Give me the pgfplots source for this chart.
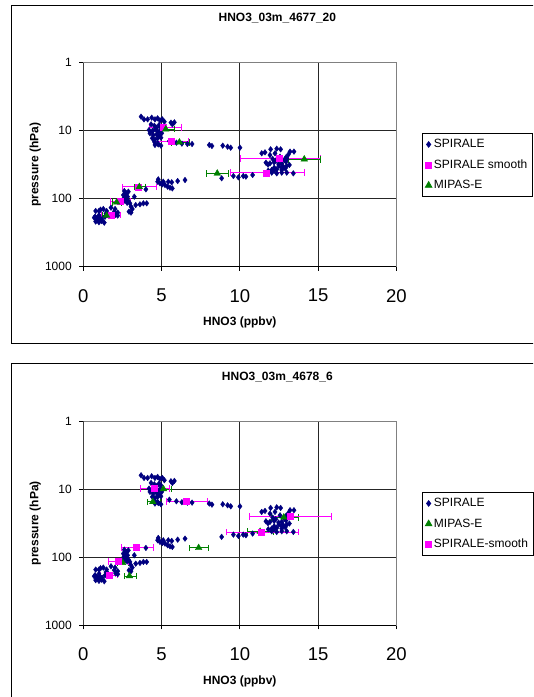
\documentclass[border=0pt]{standalone}
\usepackage{fontspec}
\setmainfont{Liberation Sans}
\usepackage{pgfplots}
\pgfplotsset{compat=1.18}
\usepackage{pgfplotstable}
\definecolor{spnavy}{RGB}{0,0,128}
\definecolor{spmag}{RGB}{255,0,255}
\definecolor{spgreen}{RGB}{0,128,0}

\pgfplotstableread{
x y
3.69 6.22
3.88 6.81
4.11 6.81
4.37 6.43
4.58 6.81
4.75 6.58
4.90 7.04
5.05 6.81
5.18 7.36
5.60 7.62
5.82 7.53
5.69 8.06
4.33 8.06
4.54 8.44
4.69 9.02
4.84 8.25
4.96 8.73
4.20 9.77
4.41 10.1
4.58 9.55
4.75 10.34
4.90 10.0
4.26 10.9
4.47 11.57
4.69 11.3
4.84 11.8
5.01 10.9
4.41 12.9
4.58 13.4
4.75 12.9
4.96 12.7
4.54 14.5
4.75 15.3
4.58 16.2
4.79 15.9
4.96 16.6
5.50 14.2
5.95 15.0
6.30 15.5
6.65 15.7
6.95 15.7
8.05 16.2
8.22 16.8
8.91 16.6
9.22 17.2
9.42 17.8
10.01 17.8
11.40 21.5
11.61 20.8
11.97 18.8
12.36 18.4
12.61 18.8
13.21 20.3
13.46 20.3
11.93 22.8
12.25 21.5
12.57 24.1
12.95 24.7
12.85 27.0
13.00 26.4
11.67 29.5
11.93 30.2
12.19 29.2
12.48 30.9
12.68 30.2
12.95 28.6
12.68 34.6
12.78 33.8
13.00 33.0
13.17 31.9
12.36 37.0
12.19 38.7
12.68 37.8
11.82 38.7
12.04 37.8
12.04 41.4
12.36 42.4
12.68 41.4
13.00 41.4
13.42 42.4
12.10 26.0
12.30 27.5
12.50 33.0
12.90 36.0
11.80 31.5
12.20 35.0
13.10 22.5
9.59 46.4
9.91 48.5
10.22 46.4
10.39 47.4
10.82 44.8
8.84 50.1
4.79 51.9
4.75 56.2
4.90 59.4
5.05 61.5
5.22 62.9
5.39 66.6
5.54 68.9
5.69 70.5
5.11 56.2
5.43 56.2
5.65 57.4
6.03 55.0
6.50 53.1
4.00 72.8
2.62 77.1
2.77 83.4
2.88 78.9
2.56 88.3
2.66 96.6
2.83 93.4
2.66 104.5
2.88 108
2.56 110.6
2.98 117
3.05 131
3.26 93.4
3.13 141.7
3.35 124
3.62 121
3.84 117
4.05 117
3.05 160
2.92 155
2.70 85
2.75 100
2.60 98
2.80 115
2.70 90
0.79 151.6
1.00 151.6
1.28 141.7
1.49 151.6
1.77 135.5
2.03 141.7
0.75 183.6
0.85 194
0.92 205
1.07 194
1.17 213
1.34 225
1.00 222
0.79 217
1.39 184
1.60 177
1.98 155
2.07 173
2.20 177
2.20 160
1.10 145
0.90 200
1.20 200
1.45 165
1.00 175
0.70 190
}\spirale

\pgfplotstableread{
x y em ep
5.10 8.9 0.88 1.17
5.60 14.5 1.13 1.13
12.53 25.5 2.46 2.60
11.67 41.5 2.25 2.43
3.50 67.0 0.98 1.15
2.34 110 0.63 0.64
1.77 174 0.60 0.57
}\smoothA

\pgfplotstableread{
x y em ep
5.27 9.5 0.37 0.55
6.14 14.8 0.49 0.66
14.12 26.3 1.02 1.05
8.56 42.4 0.72 0.71
3.58 67.0 0.30 0.38
2.13 113 0.27 0.32
1.49 177 0.30 0.30
}\mipasA

\pgfplotstableread{
x y em ep
4.55 9.7 0.89 0.92
6.59 15.2 1.26 1.34
13.20 25.2 2.60 2.65
11.36 42.4 2.20 2.36
3.37 71.3 0.95 1.13
2.24 116 0.62 0.66
1.63 182 0.53 0.55
}\smoothB

\pgfplotstableread{
x y em ep
5.12 9.9 0.45 0.53
4.44 15.3 0.36 0.46
12.81 25.8 0.76 0.91
11.30 41.9 0.83 0.86
7.37 72.5 0.62 0.63
2.51 120 0.33 0.38
2.95 188 0.34 0.45
}\mipasB

\begin{document}
\begin{tikzpicture}
\fill[white] (0pt,0pt) rectangle (533pt,697pt);
\begin{scope}
\clip (0pt,0pt) rectangle (533pt,697pt);
\draw[black, line width=1pt] (11.2pt,691.5pt) rectangle (560pt,353.7pt);
\draw[black, line width=1pt] (11.2pt,333pt) rectangle (560pt,-10pt);
\end{scope}

\begin{axis}[
    ymode=log, y dir=reverse,
    name=top, at={(83.3pt,430.3pt)}, anchor=south west,
    width=313pt, height=204pt, scale only axis,
    xmin=0, xmax=20, ymin=1, ymax=1000,
    xtick={0,5,10,15,20}, xticklabels={0,5,10,15,20},
    ytick={1,10,100,1000}, yticklabels={1,10,100,1000},
    yminorticks=false,
    xtick pos=left, ytick pos=left,
    tick align=outside, major tick length=4pt,
    tick style={black, line width=0.8pt},
    grid=major, major grid style={black!85, line width=0.9pt},
    axis line style={draw=black!50, line width=1pt},
    xticklabel style={font=\fontsize{18.5}{20}\selectfont, yshift=-15pt},
    yticklabel style={font=\fontsize{12}{14}\selectfont, xshift=-4pt},
    title={HNO3\_03m\_4677\_20},
    xlabel={HNO3 (ppbv)}, ylabel={pressure (hPa)},
    label style={font=\bfseries\fontsize{12}{14}\selectfont},
    xlabel style={at={(axis description cs:0.5,-0.288)}, anchor=base},
    ylabel style={at={(axis description cs:-0.1438,0.5)}, anchor=base},
    title style={at={(axis description cs:0.620,1.171)}, anchor=base, font=\bfseries\fontsize{12}{14}\selectfont},
    legend style={at={(axis description cs:1.082,0.654)}, anchor=north west, draw=black, line width=0.8pt, fill=white,
      font=\fontsize{12}{14}\selectfont, row sep=5pt, inner sep=3pt,
      nodes={inner sep=2pt, text height=9pt, text depth=2.5pt}},
    legend cell align=left,
  ]
\addplot[only marks, mark=diamond*, mark size=2.8pt, color=spnavy] table[x=x,y=y] {\spirale};
\addlegendentry{SPIRALE}
\addplot[only marks, mark=square*, mark size=3pt, color=spmag,
  error bars/.cd, x dir=both, x explicit,
  error bar style={line width=0.8pt, spmag},
  error mark options={rotate=90, spmag, mark size=3.3pt, line width=0.8pt}]
  table[x=x,y=y,x error minus=em,x error plus=ep] {\smoothA};
\addlegendentry{SPIRALE smooth}
\addplot[only marks, mark=triangle*, mark size=3.8pt, color=spgreen,
  error bars/.cd, x dir=both, x explicit,
  error bar style={line width=0.8pt, spgreen},
  error mark options={rotate=90, spgreen, mark size=3.3pt, line width=0.8pt}]
  table[x=x,y=y,x error minus=em,x error plus=ep] {\mipasA};
\addlegendentry{MIPAS-E}
\end{axis}
\draw[black!75, line width=1pt] (top.north west) -- (top.south west);
\draw[black, line width=1pt] (top.south west) -- (top.south east);

\begin{axis}[
    ymode=log, y dir=reverse,
    name=bot, at={(83.3pt,71.7pt)}, anchor=south west,
    width=313pt, height=204pt, scale only axis,
    xmin=0, xmax=20, ymin=1, ymax=1000,
    xtick={0,5,10,15,20}, xticklabels={0,5,10,15,20},
    ytick={1,10,100,1000}, yticklabels={1,10,100,1000},
    yminorticks=false,
    xtick pos=left, ytick pos=left,
    tick align=outside, major tick length=4pt,
    tick style={black, line width=0.8pt},
    grid=major, major grid style={black!85, line width=0.9pt},
    axis line style={draw=black!50, line width=1pt},
    xticklabel style={font=\fontsize{18.5}{20}\selectfont, yshift=-15pt},
    yticklabel style={font=\fontsize{12}{14}\selectfont, xshift=-4pt},
    title={HNO3\_03m\_4678\_6},
    xlabel={HNO3 (ppbv)}, ylabel={pressure (hPa)},
    label style={font=\bfseries\fontsize{12}{14}\selectfont},
    xlabel style={at={(axis description cs:0.5,-0.288)}, anchor=base},
    ylabel style={at={(axis description cs:-0.1438,0.5)}, anchor=base},
    title style={at={(axis description cs:0.620,1.171)}, anchor=base, font=\bfseries\fontsize{12}{14}\selectfont},
    legend style={at={(axis description cs:1.082,0.652)}, anchor=north west, draw=black, line width=0.8pt, fill=white,
      font=\fontsize{12}{14}\selectfont, row sep=5pt, inner sep=3pt,
      nodes={inner sep=2pt, text height=9pt, text depth=2.5pt}},
    legend cell align=left,
  ]
\addplot[only marks, mark=diamond*, mark size=2.8pt, color=spnavy] table[x=x,y=y] {\spirale};
\addlegendentry{SPIRALE}
\addplot[only marks, mark=triangle*, mark size=3.8pt, color=spgreen,
  error bars/.cd, x dir=both, x explicit,
  error bar style={line width=0.8pt, spgreen},
  error mark options={rotate=90, spgreen, mark size=3.3pt, line width=0.8pt}]
  table[x=x,y=y,x error minus=em,x error plus=ep] {\mipasB};
\addlegendentry{MIPAS-E}
\addplot[only marks, mark=square*, mark size=3pt, color=spmag,
  error bars/.cd, x dir=both, x explicit,
  error bar style={line width=0.8pt, spmag},
  error mark options={rotate=90, spmag, mark size=3.3pt, line width=0.8pt}]
  table[x=x,y=y,x error minus=em,x error plus=ep] {\smoothB};
\addlegendentry{SPIRALE-smooth}
\end{axis}
\draw[black!75, line width=1pt] (bot.north west) -- (bot.south west);
\draw[black, line width=1pt] (bot.south west) -- (bot.south east);

\end{tikzpicture}
\end{document}
